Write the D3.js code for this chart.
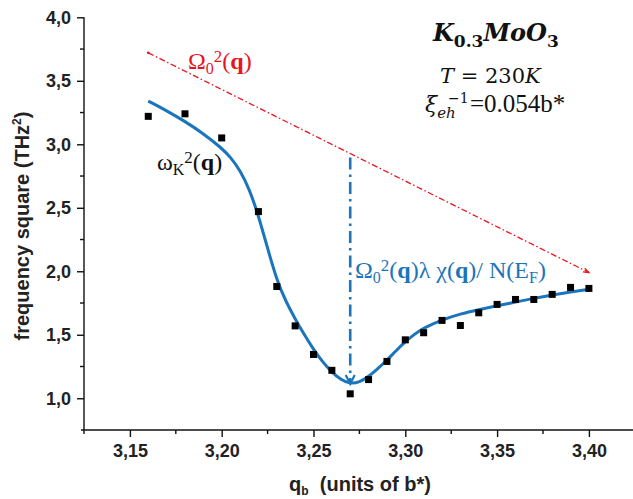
<!DOCTYPE html>
<html><head><meta charset="utf-8">
<script src="https://cdn.jsdelivr.net/npm/d3@7"></script>
<style>
html,body{margin:0;padding:0;background:#fff;}
svg{display:block;}
</style></head>
<body><svg id="c" width="633" height="499"></svg>
<script>
// ---- data ----
const qData = [3.16,3.18,3.20,3.22,3.23,3.24,3.25,3.26,3.27,3.28,3.29,3.30,3.31,3.32,3.33,3.34,3.35,3.36,3.37,3.38,3.39,3.40];
const wData = [3.22,3.24,3.05,2.47,1.88,1.57,1.345,1.22,1.035,1.147,1.29,1.46,1.516,1.613,1.573,1.673,1.739,1.778,1.778,1.818,1.873,1.865];
const fitQ = [3.16,3.17,3.18,3.19,3.20,3.205,3.21,3.215,3.22,3.225,3.23,3.235,3.24,3.245,3.25,3.255,3.26,3.265,3.27,3.275,3.28,3.285,3.29,3.295,3.30,3.305,3.31,3.32,3.33,3.34,3.35,3.36,3.37,3.38,3.39,3.40];
const fitW = [3.34,3.265,3.18,3.085,2.97,2.895,2.795,2.65,2.44,2.18,1.93,1.76,1.625,1.50,1.385,1.285,1.205,1.145,1.113,1.125,1.17,1.232,1.30,1.375,1.445,1.505,1.553,1.618,1.665,1.698,1.728,1.757,1.787,1.814,1.838,1.857];
const omegaQ = [3.16,3.40];
const omegaW = [3.72,1.99];
const arrowQ = 3.27;
const xTicks = [3.15,3.20,3.25,3.30,3.35,3.40];
const xTickLabels = ["3,15","3,20","3,25","3,30","3,35","3,40"];
const xMinor = [3.125,3.175,3.225,3.275,3.325,3.375];
const yTicks = [1.0,1.5,2.0,2.5,3.0,3.5,4.0];
const yTickLabels = ["1,0","1,5","2,0","2,5","3,0","3,5","4,0"];
const yMinor = [1.25,1.75,2.25,2.75,3.25,3.75];

const svg = d3.select("#c");
const x = d3.scaleLinear().domain([3.125,3.425]).range([84,634.8]);
const y = d3.scaleLinear().domain([0.75,4.0]).range([430,17.3]);
const blue = "#1a75bc", red = "#e8141e";
const tickFont = "'Liberation Sans', Arial, sans-serif";

// axes
const xAxis = d3.axisBottom(x).tickValues(xTicks).tickFormat((d,i)=>xTickLabels[i]).tickSize(7).tickPadding(7);
const gx = svg.append("g").attr("transform","translate(0,430)").call(xAxis);
gx.select(".domain").attr("d","M81,0H633").attr("stroke","#111").attr("stroke-width",1.4);
gx.selectAll(".tick line").attr("stroke","#111").attr("stroke-width",1.4);
gx.selectAll(".tick text").attr("font-family",tickFont).attr("font-size",18).attr("font-weight","bold").attr("fill","#222");
gx.selectAll(".minor").data(xMinor).enter().append("line").attr("class","minor")
  .attr("x1",d=>x(d)).attr("x2",d=>x(d)).attr("y1",0).attr("y2",4).attr("stroke","#111").attr("stroke-width",1.4);

const yAxis = d3.axisLeft(y).tickValues(yTicks).tickFormat((d,i)=>yTickLabels[i]).tickSize(7).tickPadding(6);
const gy = svg.append("g").attr("transform","translate(84,0)").call(yAxis);
gy.select(".domain").attr("d",`M0,${y(4.0)}V430`).attr("stroke","#111").attr("stroke-width",1.4);
gy.selectAll(".tick line").attr("stroke","#111").attr("stroke-width",1.4);
gy.selectAll(".tick text").attr("font-family",tickFont).attr("font-size",18).attr("font-weight","bold").attr("fill","#222");
gy.selectAll(".minor").data(yMinor).enter().append("line").attr("class","minor")
  .attr("x1",-4).attr("x2",0).attr("y1",d=>y(d)).attr("y2",d=>y(d)).attr("stroke","#111").attr("stroke-width",1.4);

// axis titles
const yt = svg.append("text").attr("transform","translate(29,226) rotate(-90)")
  .attr("text-anchor","middle").attr("font-family",tickFont).attr("font-size",20).attr("font-weight","bold").attr("fill","#222");
yt.append("tspan").text("frequency square (THz");
yt.append("tspan").attr("font-size",12).attr("dy",-8).text("2");
yt.append("tspan").attr("dy",8).text(")");

const xt = svg.append("text").attr("x",360).attr("y",491).attr("text-anchor","middle")
  .attr("font-family",tickFont).attr("font-size",20).attr("font-weight","bold").attr("fill","#222");
xt.append("tspan").text("q");
xt.append("tspan").attr("font-size",12).attr("dy",4).text("b");
xt.append("tspan").attr("dy",-4).text("\u00a0 (units of b*)");

// omega0 dash-dot line
svg.append("path").datum(omegaQ.map((q,i)=>[q,omegaW[i]]))
  .attr("d",d3.line().x(d=>x(d[0])).y(d=>y(d[1])))
  .attr("fill","none").attr("stroke",red).attr("stroke-width",1.3).attr("stroke-dasharray","6,2.5,1.5,2.5");
{
  const x1 = x(omegaQ[0]), y1 = y(omegaW[0]), x2 = x(omegaQ[1]), y2 = y(omegaW[1]);
  const a = Math.atan2(y2-y1,x2-x1), L = 6;
  svg.append("path").attr("d",`M${x2-L*Math.cos(a-0.35)},${y2-L*Math.sin(a-0.35)}L${x2},${y2}L${x2-L*Math.cos(a+0.35)},${y2-L*Math.sin(a+0.35)}`)
    .attr("fill","none").attr("stroke",red).attr("stroke-width",1.3);
  svg.append("circle").attr("cx",x1).attr("cy",y1).attr("r",1.3).attr("fill",red);
}

// vertical blue arrow
{
  const ax = x(arrowQ);
  const topW = omegaW[0] + (arrowQ-omegaQ[0])/(omegaQ[1]-omegaQ[0])*(omegaW[1]-omegaW[0]);
  const minW = fitW[fitQ.indexOf(arrowQ)];
  svg.append("line").attr("x1",ax).attr("x2",ax).attr("y1",y(topW)+4).attr("y2",y(minW)-2)
    .attr("stroke",blue).attr("stroke-width",2.6).attr("stroke-dasharray","12,5,2.5,5");
  svg.append("path").attr("d",`M${ax-4.5},${y(minW)-9}L${ax},${y(minW)}L${ax+4.5},${y(minW)-9}`)
    .attr("fill","none").attr("stroke",blue).attr("stroke-width",2.2);
}

// fit curve
svg.append("path").datum(fitQ.map((q,i)=>[q,fitW[i]]))
  .attr("d",d3.line().x(d=>x(d[0])).y(d=>y(d[1])).curve(d3.curveBasis))
  .attr("fill","none").attr("stroke",blue).attr("stroke-width",3);

// data squares
svg.selectAll(".pt").data(qData.map((q,i)=>[q,wData[i]])).enter().append("rect").attr("class","pt")
  .attr("x",d=>x(d[0])-3.5).attr("y",d=>y(d[1])-3.5).attr("width",7).attr("height",7).attr("fill","#000");

// labels
const serif = "'Liberation Serif','Times New Roman',serif";

const lr = svg.append("text").attr("x",188).attr("y",69).attr("font-family",serif).attr("font-size",24).attr("fill",red);
lr.append("tspan").text("\u03a9");
lr.append("tspan").attr("font-size",16).attr("dy",5).text("0");
lr.append("tspan").attr("font-size",17).attr("dy",-12).text("2");
lr.append("tspan").attr("dy",7).text("(");
lr.append("tspan").attr("font-weight","bold").text("q");
lr.append("tspan").text(")");

const lk = svg.append("text").attr("x",157).attr("y",170).attr("font-family",serif).attr("font-size",24).attr("fill","#111");
lk.append("tspan").text("\u03c9");
lk.append("tspan").attr("font-size",16).attr("dy",5).text("K");
lk.append("tspan").attr("font-size",17).attr("dy",-12).text("2");
lk.append("tspan").attr("dy",7).text("(");
lk.append("tspan").attr("font-weight","bold").text("q");
lk.append("tspan").text(")");

const lb = svg.append("text").attr("x",355).attr("y",278).attr("font-family",serif).attr("font-size",24).attr("fill",blue);
lb.append("tspan").text("\u03a9");
lb.append("tspan").attr("font-size",16).attr("dy",5).text("0");
lb.append("tspan").attr("font-size",17).attr("dy",-12).text("2");
lb.append("tspan").attr("dy",7).text("(");
lb.append("tspan").attr("font-weight","bold").text("q");
lb.append("tspan").text(")\u03bb \u03c7(");
lb.append("tspan").attr("font-weight","bold").text("q");
lb.append("tspan").text(")/ N(E");
lb.append("tspan").attr("font-size",16).attr("dy",5).text("F");
lb.append("tspan").attr("dy",-5).text(")");

// top-right annotations
const mserif = "'DejaVu Serif', serif";
const t1 = svg.append("text").attr("x",433).attr("y",41).attr("font-family",mserif).attr("font-size",24).attr("font-weight","bold").attr("fill","#111");
t1.append("tspan").attr("font-style","italic").text("K");
t1.append("tspan").attr("font-size",17).attr("dy",6).text("0.3");
t1.append("tspan").attr("font-style","italic").attr("dy",-6).text("MoO");
t1.append("tspan").attr("font-size",17).attr("dy",6).text("3");

const t2 = svg.append("text").attr("x",440).attr("y",83).attr("font-family",mserif).attr("font-size",21).attr("fill","#111");
t2.append("tspan").attr("font-style","italic").text("T");
t2.append("tspan").text(" = 230");
t2.append("tspan").attr("font-style","italic").text("K");

const t3 = svg.append("text").attr("x",425).attr("y",112).attr("font-family",mserif).attr("font-size",22).attr("fill","#111");
t3.append("tspan").attr("font-style","italic").text("\u03be");
t3.append("tspan").attr("font-style","italic").attr("font-size",15).attr("dy",6).text("eh");
t3.append("tspan").attr("font-size",14).attr("x",448).attr("dy",-15).text("\u22121");
t3.append("tspan").attr("font-family",serif).attr("font-size",25).attr("x",470).attr("dy",9).text("=0.054b*");
</script></body></html>
